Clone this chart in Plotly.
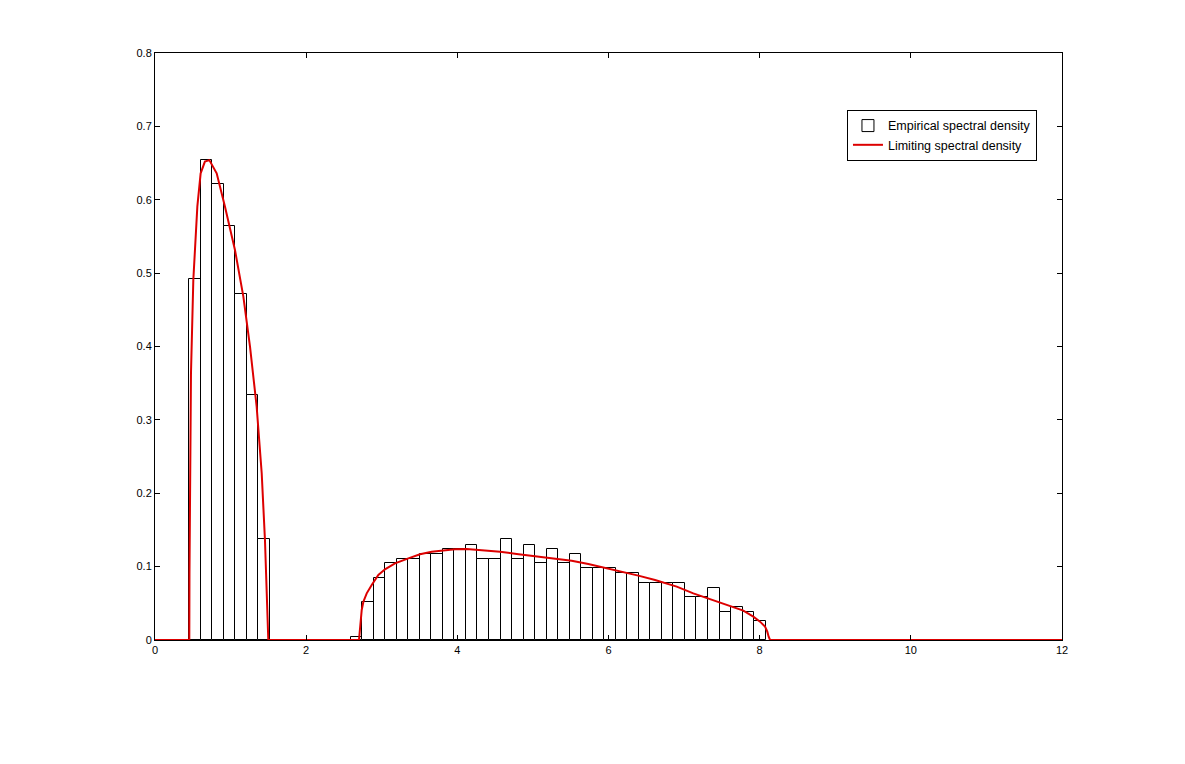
import plotly.graph_objects as go

# Histogram (empirical spectral density): 50 equal bins
bin_left = 0.454
bin_width = 0.1525
density = [
    0.492, 0.654, 0.622, 0.564, 0.471, 0.334, 0.138,
    0.0, 0.0, 0.0, 0.0, 0.0, 0.0, 0.0,
    0.0045, 0.0518, 0.084, 0.1045, 0.110, 0.110, 0.117, 0.117, 0.124, 0.124,
    0.130, 0.110, 0.110, 0.137, 0.110, 0.130, 0.1045, 0.124, 0.1045, 0.117,
    0.0977, 0.0977, 0.0977, 0.0909, 0.0909, 0.0772, 0.0772, 0.0772, 0.0772,
    0.0581, 0.0581, 0.0704, 0.0377, 0.0445, 0.0377, 0.0254,
]
bin_centers = [bin_left + (k + 0.5) * bin_width for k in range(len(density))]

# Limiting spectral density
curve_x = [
    0.0, 0.454, 0.456, 0.463, 0.476, 0.507, 0.560, 0.604, 0.660, 0.719, 0.816,
    0.926, 1.058, 1.169, 1.257, 1.345, 1.412, 1.455, 1.478, 1.486, 1.499,
    2.699, 2.712, 2.735, 2.757, 2.801, 2.867, 2.955, 3.043, 3.175, 3.352,
    3.506, 3.661, 3.837, 3.969, 4.124, 4.344, 4.565, 4.785, 5.006, 5.226,
    5.513, 5.733, 5.954, 6.175, 6.395, 6.616, 6.903, 7.122, 7.343, 7.564,
    7.784, 7.916, 8.005, 8.071, 8.101, 8.119, 8.137, 12.0,
]
curve_y = [
    0.0, 0.0, 0.09, 0.227, 0.3635, 0.4906, 0.5906, 0.636, 0.652, 0.654, 0.636,
    0.5906, 0.5315, 0.468, 0.3998, 0.318, 0.227, 0.136, 0.068, 0.045, 0.0,
    0.0, 0.018, 0.0409, 0.0522, 0.0636, 0.075, 0.0886, 0.0963, 0.1045, 0.1113,
    0.1168, 0.1204, 0.1222, 0.1236, 0.124, 0.1227, 0.1204, 0.1172, 0.1145, 0.1122,
    0.1081, 0.1036, 0.0986, 0.0931, 0.0877, 0.0818, 0.0727, 0.0636, 0.0559, 0.0477,
    0.040, 0.0318, 0.025, 0.0182, 0.0113, 0.0045, 0.0, 0.0,
]

x_ticks = [0, 2, 4, 6, 8, 10, 12]
y_ticks = [0, 0.1, 0.2, 0.3, 0.4, 0.5, 0.6, 0.7, 0.8]

fig = go.Figure()
fig.add_trace(go.Bar(
    x=bin_centers, y=density, width=bin_width,
    marker=dict(color="white", line=dict(color="black", width=1)),
    name="Empirical spectral density",
))
fig.add_trace(go.Scatter(
    x=curve_x, y=curve_y, mode="lines",
    line=dict(color="#dd0000", width=2),
    name="Limiting spectral density",
))

axis_common = dict(
    showgrid=False, zeroline=False, showline=True, linecolor="black", linewidth=1,
    mirror="ticks", ticks="inside", ticklen=5, tickcolor="black",
    tickfont=dict(family="Liberation Sans, Arial, sans-serif", size=11, color="black"),
)
fig.update_xaxes(range=[0, 12], tickvals=x_ticks, ticktext=[str(v) for v in x_ticks], **axis_common)
fig.update_yaxes(range=[0, 0.8], tickvals=y_ticks, ticktext=[("%g" % v) for v in y_ticks], **axis_common)

fig.update_layout(
    width=1177, height=756,
    margin=dict(l=147, r=123, t=45, b=124),
    paper_bgcolor="white", plot_bgcolor="white",
    bargap=0,
    showlegend=True,
    legend=dict(
        x=0.9724, xanchor="right", y=0.903, yanchor="top",
        bgcolor="white", bordercolor="black", borderwidth=1,
        font=dict(family="Liberation Sans, Arial, sans-serif", size=12.5, color="black"),
        tracegroupgap=0, itemwidth=30,
    ),
)

fig.write_html("out.html")
